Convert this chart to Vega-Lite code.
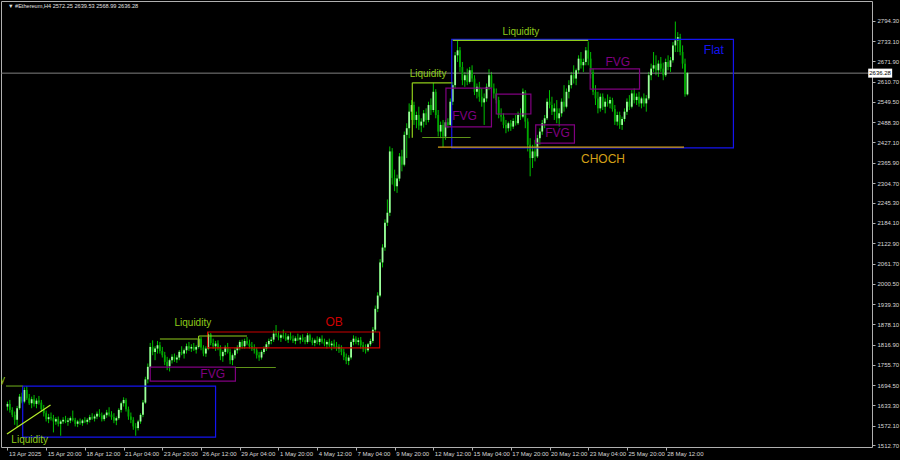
{
  "$schema": "https://vega.github.io/schema/vega-lite/v6.json",
  "width": 871,
  "height": 446,
  "autosize": {"type": "none"},
  "padding": {"left": 1, "top": 1, "right": 28, "bottom": 13},
  "background": "#000000",
  "config": {
    "view": {"stroke": "#b0b0b0", "strokeWidth": 1},
    "axis": {"grid": false, "domain": false, "labelFont": "Liberation Sans", "labelFontSize": 6, "labelColor": "#d8d8d8", "tickColor": "#b0b0b0", "tickSize": 3, "labelOverlap": false},
    "text": {"font": "Liberation Sans"}
  },
  "datasets": {
    "candles": [
      {"i":0,"o":1630,"h":1645,"l":1618,"c":1638},{"i":1,"o":1638,"h":1650,"l":1612,"c":1620},{"i":2,"o":1620,"h":1628,"l":1598,"c":1605},{"i":3,"o":1605,"h":1615,"l":1575,"c":1590},{"i":4,"o":1590,"h":1632,"l":1568,"c":1625},{"i":5,"o":1625,"h":1668,"l":1620,"c":1660},{"i":6,"o":1660,"h":1672,"l":1640,"c":1645},{"i":7,"o":1645,"h":1688,"l":1640,"c":1680},{"i":8,"o":1680,"h":1692,"l":1650,"c":1655},{"i":9,"o":1655,"h":1668,"l":1635,"c":1640},
      {"i":10,"o":1640,"h":1660,"l":1625,"c":1652},{"i":11,"o":1652,"h":1665,"l":1630,"c":1638},{"i":12,"o":1638,"h":1655,"l":1625,"c":1648},{"i":13,"o":1648,"h":1662,"l":1636,"c":1642},{"i":14,"o":1642,"h":1650,"l":1615,"c":1622},{"i":15,"o":1622,"h":1635,"l":1600,"c":1610},{"i":16,"o":1610,"h":1618,"l":1585,"c":1592},{"i":17,"o":1592,"h":1608,"l":1580,"c":1598},{"i":18,"o":1598,"h":1612,"l":1588,"c":1595},{"i":19,"o":1595,"h":1605,"l":1552,"c":1585},
      {"i":20,"o":1585,"h":1598,"l":1575,"c":1592},{"i":21,"o":1592,"h":1600,"l":1570,"c":1578},{"i":22,"o":1578,"h":1590,"l":1542,"c":1585},{"i":23,"o":1585,"h":1598,"l":1578,"c":1590},{"i":24,"o":1590,"h":1602,"l":1580,"c":1584},{"i":25,"o":1584,"h":1596,"l":1572,"c":1588},{"i":26,"o":1588,"h":1600,"l":1580,"c":1595},{"i":27,"o":1595,"h":1618,"l":1585,"c":1590},{"i":28,"o":1590,"h":1596,"l":1570,"c":1578},{"i":29,"o":1578,"h":1590,"l":1568,"c":1585},
      {"i":30,"o":1585,"h":1594,"l":1575,"c":1580},{"i":31,"o":1580,"h":1592,"l":1572,"c":1588},{"i":32,"o":1588,"h":1598,"l":1580,"c":1584},{"i":33,"o":1584,"h":1595,"l":1576,"c":1590},{"i":34,"o":1590,"h":1605,"l":1582,"c":1598},{"i":35,"o":1598,"h":1610,"l":1590,"c":1594},{"i":36,"o":1594,"h":1606,"l":1585,"c":1600},{"i":37,"o":1600,"h":1615,"l":1592,"c":1608},{"i":38,"o":1608,"h":1622,"l":1598,"c":1603},{"i":39,"o":1603,"h":1612,"l":1585,"c":1592},
      {"i":40,"o":1592,"h":1608,"l":1586,"c":1604},{"i":41,"o":1604,"h":1620,"l":1596,"c":1612},{"i":42,"o":1612,"h":1628,"l":1600,"c":1606},{"i":43,"o":1606,"h":1616,"l":1590,"c":1598},{"i":44,"o":1598,"h":1610,"l":1580,"c":1588},{"i":45,"o":1588,"h":1600,"l":1574,"c":1595},{"i":46,"o":1595,"h":1625,"l":1590,"c":1620},{"i":47,"o":1620,"h":1645,"l":1612,"c":1640},{"i":48,"o":1640,"h":1658,"l":1630,"c":1650},{"i":49,"o":1650,"h":1655,"l":1615,"c":1622},
      {"i":50,"o":1622,"h":1630,"l":1590,"c":1600},{"i":51,"o":1600,"h":1612,"l":1580,"c":1590},{"i":52,"o":1590,"h":1598,"l":1560,"c":1570},{"i":53,"o":1570,"h":1580,"l":1542,"c":1565},{"i":54,"o":1565,"h":1590,"l":1558,"c":1585},{"i":55,"o":1585,"h":1610,"l":1578,"c":1605},{"i":56,"o":1605,"h":1650,"l":1598,"c":1642},{"i":57,"o":1642,"h":1720,"l":1638,"c":1712},{"i":58,"o":1712,"h":1760,"l":1700,"c":1750},{"i":59,"o":1750,"h":1822,"l":1745,"c":1810},
      {"i":60,"o":1810,"h":1830,"l":1785,"c":1795},{"i":61,"o":1795,"h":1812,"l":1770,"c":1805},{"i":62,"o":1805,"h":1828,"l":1790,"c":1815},{"i":63,"o":1815,"h":1825,"l":1790,"c":1798},{"i":64,"o":1798,"h":1810,"l":1778,"c":1785},{"i":65,"o":1785,"h":1795,"l":1755,"c":1765},{"i":66,"o":1765,"h":1780,"l":1740,"c":1752},{"i":67,"o":1752,"h":1775,"l":1736,"c":1770},{"i":68,"o":1770,"h":1788,"l":1760,"c":1780},{"i":69,"o":1780,"h":1790,"l":1765,"c":1772},
      {"i":70,"o":1772,"h":1785,"l":1762,"c":1778},{"i":71,"o":1778,"h":1800,"l":1770,"c":1795},{"i":72,"o":1795,"h":1812,"l":1785,"c":1790},{"i":73,"o":1790,"h":1805,"l":1775,"c":1800},{"i":74,"o":1800,"h":1820,"l":1790,"c":1812},{"i":75,"o":1812,"h":1825,"l":1798,"c":1805},{"i":76,"o":1805,"h":1818,"l":1795,"c":1810},{"i":77,"o":1810,"h":1822,"l":1798,"c":1802},{"i":78,"o":1802,"h":1815,"l":1790,"c":1810},{"i":79,"o":1810,"h":1842,"l":1805,"c":1835},
      {"i":80,"o":1835,"h":1840,"l":1800,"c":1808},{"i":81,"o":1808,"h":1815,"l":1782,"c":1790},{"i":82,"o":1790,"h":1812,"l":1780,"c":1805},{"i":83,"o":1805,"h":1855,"l":1800,"c":1848},{"i":84,"o":1848,"h":1852,"l":1815,"c":1822},{"i":85,"o":1822,"h":1835,"l":1805,"c":1812},{"i":86,"o":1812,"h":1828,"l":1798,"c":1820},{"i":87,"o":1820,"h":1830,"l":1800,"c":1808},{"i":88,"o":1808,"h":1815,"l":1770,"c":1782},{"i":89,"o":1782,"h":1800,"l":1765,"c":1795},
      {"i":90,"o":1795,"h":1815,"l":1785,"c":1810},{"i":91,"o":1810,"h":1822,"l":1790,"c":1795},{"i":92,"o":1795,"h":1805,"l":1758,"c":1770},{"i":93,"o":1770,"h":1790,"l":1755,"c":1785},{"i":94,"o":1785,"h":1808,"l":1775,"c":1800},{"i":95,"o":1800,"h":1815,"l":1790,"c":1808},{"i":96,"o":1808,"h":1830,"l":1800,"c":1825},{"i":97,"o":1825,"h":1832,"l":1805,"c":1812},{"i":98,"o":1812,"h":1835,"l":1805,"c":1828},{"i":99,"o":1828,"h":1840,"l":1815,"c":1820},
      {"i":100,"o":1820,"h":1832,"l":1805,"c":1812},{"i":101,"o":1812,"h":1825,"l":1798,"c":1805},{"i":102,"o":1805,"h":1818,"l":1790,"c":1800},{"i":103,"o":1800,"h":1808,"l":1775,"c":1785},{"i":104,"o":1785,"h":1795,"l":1768,"c":1778},{"i":105,"o":1778,"h":1800,"l":1772,"c":1795},{"i":106,"o":1795,"h":1812,"l":1788,"c":1805},{"i":107,"o":1805,"h":1825,"l":1798,"c":1818},{"i":108,"o":1818,"h":1835,"l":1810,"c":1828},{"i":109,"o":1828,"h":1840,"l":1818,"c":1832},
      {"i":110,"o":1832,"h":1860,"l":1825,"c":1850},{"i":111,"o":1850,"h":1876,"l":1840,"c":1845},{"i":112,"o":1845,"h":1858,"l":1830,"c":1838},{"i":113,"o":1838,"h":1850,"l":1825,"c":1845},{"i":114,"o":1845,"h":1862,"l":1835,"c":1840},{"i":115,"o":1840,"h":1852,"l":1828,"c":1832},{"i":116,"o":1832,"h":1848,"l":1822,"c":1842},{"i":117,"o":1842,"h":1855,"l":1830,"c":1835},{"i":118,"o":1835,"h":1845,"l":1822,"c":1828},{"i":119,"o":1828,"h":1842,"l":1818,"c":1836},
      {"i":120,"o":1836,"h":1850,"l":1828,"c":1832},{"i":121,"o":1832,"h":1845,"l":1820,"c":1838},{"i":122,"o":1838,"h":1848,"l":1825,"c":1830},{"i":123,"o":1830,"h":1840,"l":1818,"c":1825},{"i":124,"o":1825,"h":1852,"l":1820,"c":1845},{"i":125,"o":1845,"h":1850,"l":1825,"c":1830},{"i":126,"o":1830,"h":1838,"l":1815,"c":1822},{"i":127,"o":1822,"h":1835,"l":1812,"c":1830},{"i":128,"o":1830,"h":1842,"l":1818,"c":1825},{"i":129,"o":1825,"h":1840,"l":1815,"c":1835},
      {"i":130,"o":1835,"h":1845,"l":1820,"c":1826},{"i":131,"o":1826,"h":1835,"l":1812,"c":1818},{"i":132,"o":1818,"h":1830,"l":1805,"c":1825},{"i":133,"o":1825,"h":1835,"l":1810,"c":1815},{"i":134,"o":1815,"h":1828,"l":1800,"c":1820},{"i":135,"o":1820,"h":1832,"l":1805,"c":1812},{"i":136,"o":1812,"h":1825,"l":1798,"c":1805},{"i":137,"o":1805,"h":1818,"l":1792,"c":1810},{"i":138,"o":1810,"h":1815,"l":1785,"c":1795},{"i":139,"o":1795,"h":1805,"l":1770,"c":1780},
      {"i":140,"o":1780,"h":1790,"l":1758,"c":1768},{"i":141,"o":1768,"h":1785,"l":1755,"c":1778},{"i":142,"o":1778,"h":1830,"l":1772,"c":1825},{"i":143,"o":1825,"h":1845,"l":1815,"c":1835},{"i":144,"o":1835,"h":1842,"l":1818,"c":1825},{"i":145,"o":1825,"h":1838,"l":1815,"c":1830},{"i":146,"o":1830,"h":1840,"l":1805,"c":1815},{"i":147,"o":1815,"h":1825,"l":1795,"c":1805},{"i":148,"o":1805,"h":1818,"l":1790,"c":1800},{"i":149,"o":1800,"h":1822,"l":1795,"c":1818},
      {"i":150,"o":1818,"h":1835,"l":1812,"c":1828},{"i":151,"o":1828,"h":1870,"l":1822,"c":1862},{"i":152,"o":1862,"h":1935,"l":1855,"c":1925},{"i":153,"o":1925,"h":1975,"l":1915,"c":1965},{"i":154,"o":1965,"h":2075,"l":1960,"c":2065},{"i":155,"o":2065,"h":2120,"l":2050,"c":2110},{"i":156,"o":2110,"h":2195,"l":2100,"c":2185},{"i":157,"o":2185,"h":2255,"l":2175,"c":2215},{"i":158,"o":2215,"h":2415,"l":2205,"c":2400},{"i":159,"o":2400,"h":2410,"l":2300,"c":2320},
      {"i":160,"o":2320,"h":2345,"l":2280,"c":2295},{"i":161,"o":2295,"h":2330,"l":2275,"c":2318},{"i":162,"o":2318,"h":2395,"l":2310,"c":2385},{"i":163,"o":2385,"h":2405,"l":2340,"c":2360},{"i":164,"o":2360,"h":2460,"l":2355,"c":2450},{"i":165,"o":2450,"h":2485,"l":2380,"c":2470},{"i":166,"o":2470,"h":2545,"l":2440,"c":2520},{"i":167,"o":2520,"h":2555,"l":2495,"c":2540},{"i":168,"o":2540,"h":2550,"l":2480,"c":2495},{"i":169,"o":2495,"h":2520,"l":2470,"c":2510},
      {"i":170,"o":2510,"h":2535,"l":2465,"c":2478},{"i":171,"o":2478,"h":2500,"l":2458,"c":2490},{"i":172,"o":2490,"h":2525,"l":2472,"c":2515},{"i":173,"o":2515,"h":2530,"l":2480,"c":2495},{"i":174,"o":2495,"h":2550,"l":2488,"c":2540},{"i":175,"o":2540,"h":2560,"l":2510,"c":2525},{"i":176,"o":2525,"h":2607,"l":2518,"c":2580},{"i":177,"o":2580,"h":2588,"l":2500,"c":2510},{"i":178,"o":2510,"h":2525,"l":2445,"c":2460},{"i":179,"o":2460,"h":2490,"l":2440,"c":2480},
      {"i":180,"o":2480,"h":2495,"l":2413,"c":2445},{"i":181,"o":2445,"h":2495,"l":2435,"c":2488},{"i":182,"o":2488,"h":2500,"l":2470,"c":2480},{"i":183,"o":2480,"h":2560,"l":2475,"c":2550},{"i":184,"o":2550,"h":2610,"l":2540,"c":2600},{"i":185,"o":2600,"h":2700,"l":2590,"c":2690},{"i":186,"o":2690,"h":2735,"l":2670,"c":2705},{"i":187,"o":2705,"h":2715,"l":2640,"c":2655},{"i":188,"o":2655,"h":2670,"l":2600,"c":2615},{"i":189,"o":2615,"h":2640,"l":2595,"c":2630},
      {"i":190,"o":2630,"h":2650,"l":2600,"c":2610},{"i":191,"o":2610,"h":2655,"l":2605,"c":2645},{"i":192,"o":2645,"h":2660,"l":2610,"c":2620},{"i":193,"o":2620,"h":2630,"l":2570,"c":2580},{"i":194,"o":2580,"h":2605,"l":2560,"c":2595},{"i":195,"o":2595,"h":2610,"l":2550,"c":2565},{"i":196,"o":2565,"h":2590,"l":2535,"c":2548},{"i":197,"o":2548,"h":2575,"l":2480,"c":2560},{"i":198,"o":2560,"h":2605,"l":2550,"c":2595},{"i":199,"o":2595,"h":2648,"l":2585,"c":2630},
      {"i":200,"o":2630,"h":2640,"l":2580,"c":2590},{"i":201,"o":2590,"h":2605,"l":2560,"c":2575},{"i":202,"o":2575,"h":2590,"l":2545,"c":2555},{"i":203,"o":2555,"h":2565,"l":2500,"c":2510},{"i":204,"o":2510,"h":2530,"l":2490,"c":2505},{"i":205,"o":2505,"h":2515,"l":2470,"c":2480},{"i":206,"o":2480,"h":2495,"l":2455,"c":2470},{"i":207,"o":2470,"h":2490,"l":2460,"c":2485},{"i":208,"o":2485,"h":2495,"l":2462,"c":2475},{"i":209,"o":2475,"h":2500,"l":2468,"c":2492},
      {"i":210,"o":2492,"h":2510,"l":2478,"c":2485},{"i":211,"o":2485,"h":2520,"l":2480,"c":2510},{"i":212,"o":2510,"h":2530,"l":2495,"c":2505},{"i":213,"o":2505,"h":2590,"l":2500,"c":2580},{"i":214,"o":2580,"h":2585,"l":2470,"c":2490},{"i":215,"o":2490,"h":2500,"l":2400,"c":2420},{"i":216,"o":2420,"h":2440,"l":2325,"c":2380},{"i":217,"o":2380,"h":2420,"l":2350,"c":2400},{"i":218,"o":2400,"h":2435,"l":2370,"c":2385},{"i":219,"o":2385,"h":2450,"l":2380,"c":2440},
      {"i":220,"o":2440,"h":2470,"l":2420,"c":2460},{"i":221,"o":2460,"h":2495,"l":2450,"c":2485},{"i":222,"o":2485,"h":2510,"l":2470,"c":2500},{"i":223,"o":2500,"h":2560,"l":2495,"c":2550},{"i":224,"o":2550,"h":2585,"l":2530,"c":2540},{"i":225,"o":2540,"h":2565,"l":2510,"c":2520},{"i":226,"o":2520,"h":2545,"l":2495,"c":2530},{"i":227,"o":2530,"h":2555,"l":2485,"c":2500},{"i":228,"o":2500,"h":2530,"l":2475,"c":2515},{"i":229,"o":2515,"h":2560,"l":2505,"c":2550},
      {"i":230,"o":2550,"h":2600,"l":2520,"c":2535},{"i":231,"o":2535,"h":2590,"l":2530,"c":2580},{"i":232,"o":2580,"h":2615,"l":2560,"c":2600},{"i":233,"o":2600,"h":2640,"l":2590,"c":2630},{"i":234,"o":2630,"h":2660,"l":2605,"c":2620},{"i":235,"o":2620,"h":2650,"l":2600,"c":2645},{"i":236,"o":2645,"h":2690,"l":2635,"c":2680},{"i":237,"o":2680,"h":2700,"l":2650,"c":2660},{"i":238,"o":2660,"h":2680,"l":2640,"c":2670},{"i":239,"o":2670,"h":2715,"l":2660,"c":2705},
      {"i":240,"o":2705,"h":2732,"l":2660,"c":2680},{"i":241,"o":2680,"h":2700,"l":2620,"c":2640},{"i":242,"o":2640,"h":2650,"l":2570,"c":2580},{"i":243,"o":2580,"h":2600,"l":2540,"c":2560},{"i":244,"o":2560,"h":2580,"l":2515,"c":2530},{"i":245,"o":2530,"h":2575,"l":2520,"c":2565},{"i":246,"o":2565,"h":2575,"l":2525,"c":2535},{"i":247,"o":2535,"h":2560,"l":2515,"c":2550},{"i":248,"o":2550,"h":2572,"l":2535,"c":2545},{"i":249,"o":2545,"h":2565,"l":2530,"c":2555},
      {"i":250,"o":2555,"h":2562,"l":2520,"c":2528},{"i":251,"o":2528,"h":2540,"l":2480,"c":2490},{"i":252,"o":2490,"h":2520,"l":2478,"c":2510},{"i":253,"o":2510,"h":2520,"l":2468,"c":2480},{"i":254,"o":2480,"h":2505,"l":2465,"c":2498},{"i":255,"o":2498,"h":2530,"l":2490,"c":2520},{"i":256,"o":2520,"h":2560,"l":2510,"c":2550},{"i":257,"o":2550,"h":2570,"l":2525,"c":2535},{"i":258,"o":2535,"h":2585,"l":2530,"c":2575},{"i":259,"o":2575,"h":2590,"l":2545,"c":2555},
      {"i":260,"o":2555,"h":2575,"l":2540,"c":2565},{"i":261,"o":2565,"h":2580,"l":2535,"c":2545},{"i":262,"o":2545,"h":2565,"l":2530,"c":2560},{"i":263,"o":2560,"h":2575,"l":2535,"c":2545},{"i":264,"o":2545,"h":2570,"l":2520,"c":2560},{"i":265,"o":2560,"h":2640,"l":2555,"c":2630},{"i":266,"o":2630,"h":2665,"l":2615,"c":2650},{"i":267,"o":2650,"h":2700,"l":2640,"c":2660},{"i":268,"o":2660,"h":2690,"l":2630,"c":2645},{"i":269,"o":2645,"h":2675,"l":2625,"c":2665},
      {"i":270,"o":2665,"h":2685,"l":2640,"c":2650},{"i":271,"o":2650,"h":2668,"l":2615,"c":2630},{"i":272,"o":2630,"h":2680,"l":2625,"c":2670},{"i":273,"o":2670,"h":2690,"l":2645,"c":2655},{"i":274,"o":2655,"h":2685,"l":2640,"c":2675},{"i":275,"o":2675,"h":2730,"l":2668,"c":2720},{"i":276,"o":2720,"h":2792,"l":2700,"c":2735},{"i":277,"o":2735,"h":2760,"l":2700,"c":2745},{"i":278,"o":2745,"h":2755,"l":2690,"c":2700},{"i":279,"o":2700,"h":2720,"l":2650,"c":2665},
      {"i":280,"o":2665,"h":2680,"l":2565,"c":2572.25},{"i":281,"o":2572.25,"h":2639.53,"l":2568.99,"c":2636.28}
    ],
    "zones": [
      {"kind":"zone","i":6.3,"i2":86.0,"p":1538,"p2":1692},
      {"kind":"fvg","i":59,"i2":94.2,"p":1707,"p2":1749},
      {"kind":"ob","i":82.7,"i2":153.8,"p":1807,"p2":1855},
      {"kind":"zone","i":183.6,"i2":300,"p":2411,"p2":2738},
      {"kind":"fvg","i":181.2,"i2":200,"p":2474,"p2":2591},
      {"kind":"fvg","i":202,"i2":216.3,"p":2513,"p2":2573},
      {"kind":"fvg","i":218.3,"i2":234.3,"p":2425,"p2":2480},
      {"kind":"fvg","i":240.8,"i2":261.2,"p":2588,"p2":2649}
    ],
    "levels": [
      {"kind":"liq2","i":-0.6,"i2":6.3,"p":1692,"p2":1692},
      {"kind":"diag","i":-0.2,"i2":17.8,"p":1547,"p2":1635},
      {"kind":"liq","i":63,"i2":78.6,"p":1834,"p2":1834},
      {"kind":"liq","i":79,"i2":99,"p":1843,"p2":1843},
      {"kind":"liq","i":79,"i2":79,"p":1843,"p2":1812},
      {"kind":"liq2","i":94.2,"i2":110.9,"p":1748,"p2":1748},
      {"kind":"liq","i":167.3,"i2":183.6,"p":2607,"p2":2607},
      {"kind":"liq","i":167.3,"i2":167.3,"p":2607,"p2":2441},
      {"kind":"liq2","i":171.4,"i2":191.4,"p":2442,"p2":2442},
      {"kind":"choch","i":177.9,"i2":279.6,"p":2413,"p2":2413},
      {"kind":"liq","i":184,"i2":240,"p":2735,"p2":2735}
    ],
    "labels": [
      {"kind":"liq","text":"Liquidity","i":-8.6,"p":1711},
      {"kind":"liq","text":"Liquidity","i":9.2,"p":1529},
      {"kind":"liq","text":"Liquidity","i":76.6,"p":1882},
      {"kind":"liq","text":"Liquidity","i":173.8,"p":2634},
      {"kind":"liq","text":"Liquidity","i":212.2,"p":2760},
      {"kind":"fvg","text":"FVG","i":84.8,"p":1728},
      {"kind":"fvg","text":"FVG","i":188.9,"p":2507},
      {"kind":"fvg","text":"FVG","i":227.3,"p":2456},
      {"kind":"fvg","text":"FVG","i":252.2,"p":2670},
      {"kind":"ob","text":"OB","i":135,"p":1885},
      {"kind":"zone","text":"Flat","i":291.9,"p":2706},
      {"kind":"choch","text":"CHOCH","i":246.1,"p":2377}
    ],
    "quote": [
      {"text":"▼ #Ethereum,H4  2572.25 2639.53 2568.99 2636.28","i":0.2,"p":2839}
    ],
    "last": [
      {"p":2636.28,"i":355.7,"i2":365.6,"lo":2622.7,"hi":2649.9,"text":"2636.28"}
    ]
  },
  "layer": [
    {
      "data": {"name": "candles"},
      "mark": {"type": "rule", "color": "#00c000", "strokeWidth": 1},
      "encoding": {
        "x": {"field": "i", "type": "quantitative", "scale": {"domain": [-0.6, 355.2], "nice": false, "zero": false},
          "axis": {"title": null, "tickCount": 40, "values": [0,16,32,48,64,80,96,112,128,144,160,176,192,208,224,240,256,272],
            "labelExpr": "['13 Apr 2025','15 Apr 20:00','18 Apr 12:00','21 Apr 04:00','23 Apr 20:00','26 Apr 12:00','29 Apr 04:00','1 May 20:00','4 May 12:00','7 May 04:00','9 May 20:00','12 May 12:00','15 May 04:00','17 May 20:00','20 May 12:00','23 May 04:00','25 May 20:00','28 May 12:00'][round(datum.value/16)]",
            "labelAlign": "left", "labelBaseline": "top", "labelPadding": 0, "labelOffset": 1, "labelOverlap": false, "labelFlush": false}},
        "y": {"field": "l", "type": "quantitative", "scale": {"domain": [1508, 2854], "nice": false, "zero": false},
          "axis": {"orient": "right", "title": null, "tickCount": 40, "values": [2794.3,2733.1,2671.9,2610.7,2549.5,2488.3,2427.1,2365.9,2304.7,2245.3,2184.1,2122.9,2061.7,2000.5,1939.3,1878.1,1816.9,1755.7,1694.5,1633.3,1572.1,1512.7], "format": ".2f", "labelAlign": "left", "labelBaseline": "middle", "labelPadding": 2, "labelOverlap": false, "labelFlush": false}},
        "y2": {"field": "h"}
      }
    },
    {
      "data": {"name": "last"},
      "mark": {"type": "rule", "color": "#808080", "strokeWidth": 1},
      "encoding": {
        "y": {"field": "p", "type": "quantitative", "axis": {"orient": "right", "title": null, "tickCount": 40, "labelOverlap": false}}
      }
    },
    {
      "data": {"name": "candles"},
      "mark": {"type": "bar", "size": 1.8},
      "encoding": {
        "x": {"field": "i", "type": "quantitative", "axis": {"title": null, "tickCount": 40, "labelOverlap": false}},
        "y": {"field": "o", "type": "quantitative", "axis": {"orient": "right", "title": null, "tickCount": 40, "labelOverlap": false}},
        "y2": {"field": "c"},
        "color": {"condition": {"test": "datum.c >= datum.o", "value": "#9cff9c"}, "value": "#00a800"}
      }
    },
    {
      "data": {"name": "zones"},
      "mark": {"type": "rect", "filled": false, "strokeWidth": 1.2},
      "encoding": {
        "x": {"field": "i", "type": "quantitative", "axis": {"title": null, "tickCount": 40, "labelOverlap": false}},
        "x2": {"field": "i2"},
        "y": {"field": "p", "type": "quantitative", "axis": {"orient": "right", "title": null, "tickCount": 40, "labelOverlap": false}},
        "y2": {"field": "p2"},
        "color": {"field": "kind", "type": "nominal", "legend": null,
          "scale": {"domain": ["zone","fvg","ob","liq","liq2","diag","choch"], "range": ["#1414f0","#800080","#cc0000","#8fcc1a","#5f9418","#b8f02a","#d4a017"]}}
      }
    },
    {
      "data": {"name": "levels"},
      "mark": {"type": "rule", "strokeWidth": 1.2},
      "encoding": {
        "x": {"field": "i", "type": "quantitative", "axis": {"title": null, "tickCount": 40, "labelOverlap": false}},
        "x2": {"field": "i2"},
        "y": {"field": "p", "type": "quantitative", "axis": {"orient": "right", "title": null, "tickCount": 40, "labelOverlap": false}},
        "y2": {"field": "p2"},
        "color": {"field": "kind", "type": "nominal", "legend": null}
      }
    },
    {
      "data": {"name": "labels"},
      "transform": [{"filter": "datum.kind == 'liq'"}],
      "mark": {"type": "text", "fontSize": 10, "align": "center", "baseline": "middle", "clip": true},
      "encoding": {
        "x": {"field": "i", "type": "quantitative", "axis": {"title": null, "tickCount": 40, "labelOverlap": false}},
        "y": {"field": "p", "type": "quantitative", "axis": {"orient": "right", "title": null, "tickCount": 40, "labelOverlap": false}},
        "text": {"field": "text"},
        "color": {"field": "kind", "type": "nominal", "legend": null}
      }
    },
    {
      "data": {"name": "labels"},
      "transform": [{"filter": "datum.kind != 'liq'"}],
      "mark": {"type": "text", "fontSize": 12, "align": "center", "baseline": "middle"},
      "encoding": {
        "x": {"field": "i", "type": "quantitative", "axis": {"title": null, "tickCount": 40, "labelOverlap": false}},
        "y": {"field": "p", "type": "quantitative", "axis": {"orient": "right", "title": null, "tickCount": 40, "labelOverlap": false}},
        "text": {"field": "text"},
        "color": {"field": "kind", "type": "nominal", "legend": null}
      }
    },
    {
      "data": {"name": "quote"},
      "mark": {"type": "text", "fontSize": 5.6, "align": "left", "baseline": "middle", "color": "#e0e0e0"},
      "encoding": {
        "x": {"field": "i", "type": "quantitative", "axis": {"title": null, "tickCount": 40, "labelOverlap": false}},
        "y": {"field": "p", "type": "quantitative", "axis": {"orient": "right", "title": null, "tickCount": 40, "labelOverlap": false}},
        "text": {"field": "text"}
      }
    },
    {
      "data": {"name": "last"},
      "mark": {"type": "rect", "color": "#ffffff"},
      "encoding": {
        "x": {"field": "i", "type": "quantitative", "axis": {"title": null, "tickCount": 40, "labelOverlap": false}},
        "x2": {"field": "i2"},
        "y": {"field": "lo", "type": "quantitative", "axis": {"orient": "right", "title": null, "tickCount": 40, "labelOverlap": false}},
        "y2": {"field": "hi"}
      }
    },
    {
      "data": {"name": "last"},
      "mark": {"type": "text", "fontSize": 6, "align": "left", "baseline": "middle", "color": "#000000", "dx": 1},
      "encoding": {
        "x": {"field": "i", "type": "quantitative", "axis": {"title": null, "tickCount": 40, "labelOverlap": false}},
        "y": {"field": "p", "type": "quantitative", "axis": {"orient": "right", "title": null, "tickCount": 40, "labelOverlap": false}},
        "text": {"field": "text"}
      }
    }
  ]
}
